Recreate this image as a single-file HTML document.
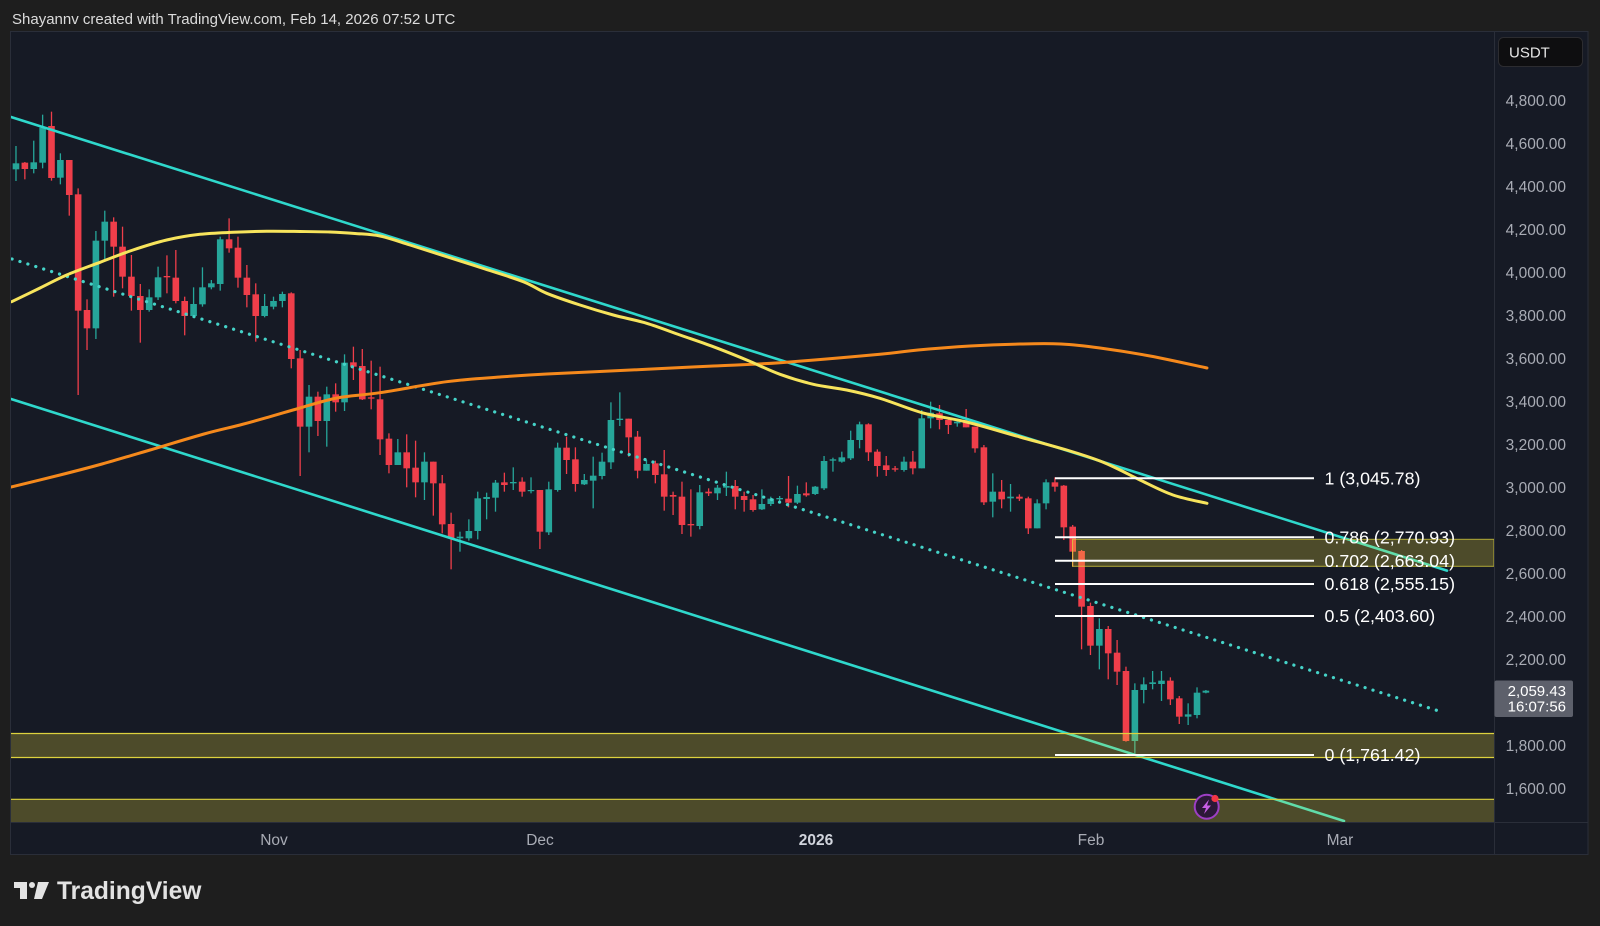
<!DOCTYPE html>
<html>
<head>
<meta charset="utf-8">
<style>
  html,body{margin:0;padding:0;background:#1e1e1e;width:1600px;height:926px;overflow:hidden;}
  svg{position:absolute;left:0;top:0;display:block;}
  text{font-family:"Liberation Sans",sans-serif;}
</style>
</head>
<body>
<svg width="1600" height="926" viewBox="0 0 1600 926">
  <defs>
    <clipPath id="pc"><rect x="11" y="32" width="1483" height="790"/></clipPath>
  </defs>
  <rect x="0" y="0" width="1600" height="926" fill="#1e1e1e"/>
  <!-- header -->
  <text x="12" y="24" font-size="15" fill="#dcdcdc">Shayannv created with TradingView.com, Feb 14, 2026 07:52 UTC</text>

  <!-- chart panel -->
  <rect x="10.5" y="31.5" width="1577.5" height="823" fill="#161a25" stroke="#2a2e39" stroke-width="1"/>
  <line x1="1494.5" y1="32" x2="1494.5" y2="854" stroke="#2a2e39" stroke-width="1"/>
  <line x1="11" y1="822.5" x2="1588" y2="822.5" stroke="#2a2e39" stroke-width="1"/>

  <g clip-path="url(#pc)">
    <g id="candles"></g>
    <!-- channel lines -->
    <line x1="11" y1="117" x2="1447" y2="570.6" stroke="#2fd8cc" stroke-width="2.6" stroke-linecap="round"/>
    <line x1="11" y1="399" x2="1344" y2="821" stroke="#2fd8cc" stroke-width="2.6" stroke-linecap="round"/>
    <line x1="12" y1="259" x2="1442" y2="712" stroke="#45d3c8" stroke-width="3.2" stroke-dasharray="0.1 8.2" stroke-linecap="round"/>
    <!-- moving averages -->
    <path id="orange" fill="none" stroke="#f5891c" stroke-width="3" stroke-linecap="round" stroke-linejoin="round"/>
    <path id="yellow" fill="none" stroke="#f7e45c" stroke-width="3" stroke-linecap="round" stroke-linejoin="round"/>
    <!-- zones -->
    <rect x="11" y="733.3" width="1483" height="24.4" fill="rgba(255,235,59,0.24)"/>
    <line x1="11" y1="733.5" x2="1494" y2="733.5" stroke="#ddd23e" stroke-width="1.2"/>
    <line x1="11" y1="757.5" x2="1494" y2="757.5" stroke="#ddd23e" stroke-width="1.2"/>
    <rect x="11" y="799" width="1483" height="23.5" fill="rgba(255,235,59,0.24)"/>
    <line x1="11" y1="799.3" x2="1494" y2="799.3" stroke="#ddd23e" stroke-width="1.2"/>
    <rect x="1072.5" y="539.3" width="421.5" height="27" fill="rgba(255,235,59,0.24)" stroke="rgba(221,210,62,0.75)" stroke-width="1"/>
    <!-- fib lines -->
    <g stroke="#ffffff" stroke-width="2">
      <line x1="1055" y1="478.3" x2="1314" y2="478.3"/>
      <line x1="1055" y1="537.3" x2="1314" y2="537.3"/>
      <line x1="1055" y1="560.7" x2="1314" y2="560.7"/>
      <line x1="1055" y1="584" x2="1314" y2="584"/>
      <line x1="1055" y1="616" x2="1314" y2="616"/>
      <line x1="1055" y1="755" x2="1314" y2="755"/>
    </g>
    <g font-size="17.8" fill="#ffffff">
      <text x="1324.5" y="484.5">1 (3,045.78)</text>
      <text x="1324.5" y="543.5">0.786 (2,770.93)</text>
      <text x="1324.5" y="566.9">0.702 (2,663.04)</text>
      <text x="1324.5" y="590.2">0.618 (2,555.15)</text>
      <text x="1324.5" y="622.2">0.5 (2,403.60)</text>
      <text x="1324.5" y="761.2">0 (1,761.42)</text>
    </g>
    <!-- lightning icon -->
    <circle cx="1206.7" cy="806.7" r="12" fill="#2b1838" stroke="#9d3fc4" stroke-width="2"/>
    <polygon points="1209,799.5 1202,808 1206,808 1204,814 1211,805.5 1207,805.5" fill="#c85ee6"/>
    <circle cx="1215" cy="798.5" r="3.6" fill="#f23645"/>
  </g>

  <!-- price axis -->
  <rect x="1498.5" y="37.5" width="84" height="29" rx="5" fill="#0e0e10" stroke="#2c2c30"/>
  <text x="1509" y="57.5" font-size="15" fill="#e6e6e6">USDT</text>
  <g font-size="15.5" fill="#a9acb5" text-anchor="end">
    <text x="1566" y="106.2">4,800.00</text>
    <text x="1566" y="149.2">4,600.00</text>
    <text x="1566" y="192.2">4,400.00</text>
    <text x="1566" y="235.2">4,200.00</text>
    <text x="1566" y="278.2">4,000.00</text>
    <text x="1566" y="321.2">3,800.00</text>
    <text x="1566" y="364.2">3,600.00</text>
    <text x="1566" y="407.2">3,400.00</text>
    <text x="1566" y="450.2">3,200.00</text>
    <text x="1566" y="493.2">3,000.00</text>
    <text x="1566" y="536.2">2,800.00</text>
    <text x="1566" y="579.2">2,600.00</text>
    <text x="1566" y="622.2">2,400.00</text>
    <text x="1566" y="665.2">2,200.00</text>
    <text x="1566" y="751.2">1,800.00</text>
    <text x="1566" y="794.2">1,600.00</text>
  </g>
  <rect x="1494.5" y="680.5" width="78.5" height="36.5" rx="2" fill="#5d606b"/>
  <g font-size="15" fill="#ffffff" text-anchor="end">
    <text x="1566" y="695.8">2,059.43</text>
    <text x="1566" y="711.6">16:07:56</text>
  </g>

  <!-- time axis -->
  <g font-size="15.5" fill="#a9acb5" text-anchor="middle">
    <text x="274" y="844.8">Nov</text>
    <text x="540" y="844.8">Dec</text>
    <text x="816" y="844.8" font-weight="bold" fill="#d1d4dc">2026</text>
    <text x="1091" y="844.8">Feb</text>
    <text x="1340" y="844.8">Mar</text>
  </g>

  <!-- TradingView logo -->
  <g fill="#e3e3e3">
    <rect x="14" y="882" width="13" height="6"/>
    <rect x="20" y="882" width="7" height="17"/>
    <circle cx="32" cy="885" r="3"/>
    <polygon points="38,882 49,882 42,899 34,899"/>
  </g>
  <text x="57" y="899" font-size="24.6" font-weight="bold" fill="#e3e3e3">TradingView</text>
</svg>

<script>
(function(){
  var G='#26a69a', R='#ef3e4a';
  var segs=[
   {y0:100,d0:-29,data:[
    ['g',190,208,138,243],['r',188,207,186,238],['g',187,207,122,220],['g',83,188,44,205],
    ['r',78,234,35,242],['g',180,233,160,253],['r',180,285,180,347],['r',283,632,265,885],
    ['r',630,685,598,750],['g',422,685,393,717],['g',365,422,332,480],['r',365,440,352,590],
    ['r',440,530,380,565],['r',530,588,465,632],['r',588,630,552,728],['g',592,630,568,635],
    ['g',532,592,500,600],['r',528,532,466,580],['r',533,603,450,610],['r',603,648,590,706],
    ['g',612,648,562,650],['g',562,613,502,620],['g',550,562,540,568],['g',418,552,410,572],
    ['r',418,445,355,458],['r',443,533,410,563],['r',533,585,495,622],['r',583,648,550,725],
    ['g',618,648,582,652],['g',603,620,590,628],['g',582,603,575,622]
   ]},
   {y0:270,d0:2,data:[
    ['r',70,267,67,295],['r',265,470,240,618],['g',380,470,345,547],['r',380,453,365,498],
    ['g',373,453,350,530],['r',373,397,340,425],['g',278,397,253,423],['r',277,290,230,330],
    ['r',288,388,237,390],['r',382,386,272,418],['r',388,508,290,555],['r',506,585,490,610],
    ['g',547,585,507,585],['r',547,595,493,652],['r',593,637,512,682],['g',575,637,547,690],
    ['r',575,640,575,737],['r',640,763,615,790],['r',762,805,728,898],['g',800,805,785,845],
    ['g',783,805,748,812],['g',685,783,665,808],['g',681,687,668,748],['g',638,683,630,725],
    ['r',637,645,608,665],['g',636,640,592,660],['r',635,665,622,680],['g',660,663,622,670],
    ['r',660,785,660,837],['g',658,787,635,795],['g',533,660,518,665],['r',533,570,500,612]
   ]},
   {y0:370,d0:34,data:[
    ['r',268,342,232,365],['g',330,343,312,345],['g',317,332,260,415],['g',275,318,248,328],
    ['g',150,277,97,297],['g',146,150,67,168],['r',146,202,146,260],['r',200,302,183,325],
    ['g',282,302,270,302],['r',280,315,272,340],['r',313,380,240,422],['r',375,380,365,435],
    ['r',380,465,335,492],['r',462,466,358,500],['g',367,468,345,478],['r',365,370,355,378],
    ['g',353,370,345,390],['g',348,353,305,378],['r',348,380,330,418],['r',378,390,365,425],
    ['r',388,420,375,425],['g',402,418,358,420],['g',386,402,380,408],['g',384,388,378,395],
    ['r',386,398,318,412],['g',372,398,347,402],['r',370,376,337,380],['g',350,372,348,375],
    ['g',273,355,258,360],['g',268,272,263,305],['g',262,275,245,278],['g',210,265,182,270]
   ]},
   {y0:390,d0:66,data:[
    ['g',103,150,95,175],['r',103,187,100,213],['r',185,228,178,260],['r',226,240,198,258],
    ['r',235,239,228,245],['g',215,240,200,245],['r',215,235,183,253],['g',85,235,60,235],
    ['g',68,85,35,115],['r',70,90,45,118],['r',90,105,85,132],['g',95,100,88,110],
    ['r',95,112,57,112],['r',110,175,110,188],['r',172,337,165,345],['g',305,335,250,382],
    ['r',305,328,270,355],['g',320,325,282,365],['r',320,326,313,333],['r',325,415,320,432],
    ['g',340,415,328,415],['g',277,340,268,358],['r',277,290,262,305]
   ]},
   {y0:470,d0:89,data:[
    ['r',47,172,45,210],['r',170,245,165,290],['r',243,410,240,538],['r',408,527,398,555],
    ['g',477,527,445,598],['r',477,550,468,628],['r',548,605,510,645],['r',603,813,590,815],
    ['g',660,813,640,850],['g',643,660,622,700],['g',637,642,603,658],['g',632,642,603,693],
    ['r',632,688,622,705],['r',685,740,678,762],['g',733,740,700,765],['g',668,735,652,745],
    ['g',662,668,660,670]
   ]}
  ];
  var s='';
  segs.forEach(function(seg){
    seg.data.forEach(function(c,i){
      var d=seg.d0+i, x=273.5+8.88*d, col=c[0]==='g'?G:R;
      var bt=seg.y0+c[1]/3, bb=seg.y0+c[2]/3, wt=seg.y0+c[3]/3, wb=seg.y0+c[4]/3;
      var h=Math.max(bb-bt,1.2);
      s+='<line x1="'+x.toFixed(2)+'" y1="'+wt.toFixed(2)+'" x2="'+x.toFixed(2)+'" y2="'+wb.toFixed(2)+'" stroke="'+col+'" stroke-width="1.3"/>';
      s+='<rect x="'+(x-3.3).toFixed(2)+'" y="'+bt.toFixed(2)+'" width="6.6" height="'+h.toFixed(2)+'" fill="'+col+'"/>';
    });
  });
  document.getElementById('candles').innerHTML=s;

  function smooth(p){
    var d='M'+p[0][0]+','+p[0][1];
    for(var i=0;i<p.length-1;i++){
      var p0=p[i-1]||p[i], p1=p[i], p2=p[i+1], p3=p[i+2]||p2;
      var c1=[p1[0]+(p2[0]-p0[0])/6, p1[1]+(p2[1]-p0[1])/6];
      var c2=[p2[0]-(p3[0]-p1[0])/6, p2[1]-(p3[1]-p1[1])/6];
      d+='C'+c1[0].toFixed(2)+','+c1[1].toFixed(2)+' '+c2[0].toFixed(2)+','+c2[1].toFixed(2)+' '+p2[0]+','+p2[1];
    }
    return d;
  }
  var yellow=[[11.7,301.7],[40,288],[66.7,275],[100,262.3],[133,250],[166.7,240],[200,234.3],[233,232.3],[266.7,231.3],[300,231.5],[330,232],[355,233.5],[380,236],[410,245],[446.7,256.7],[485,269],[523.3,281.7],[546.7,293.3],[580,305],[613.3,315],[646.7,323.3],[680,335],[713.3,346.7],[746.7,360],[780,374.3],[813.3,384.3],[846.7,390],[880,398.3],[923,413],[966.7,422],[1020,437],[1070,451],[1100,461],[1120,470],[1140,480],[1173,495],[1207,503.3]];
  var orange=[[11,487],[60,475],[102,464],[150,450],[204,434],[240,425],[270,416.7],[300,408],[337,398],[380,392.7],[446.7,381.7],[500,377],[546.7,374],[646.7,369.3],[713.3,366],[780,362.7],[880,354.3],[918,350],[970,346],[1020,344],[1061,344],[1100,348],[1150,356],[1207,368]];
  document.getElementById('yellow').setAttribute('d',smooth(yellow));
  document.getElementById('orange').setAttribute('d',smooth(orange));
})();
</script>
</body>
</html>
